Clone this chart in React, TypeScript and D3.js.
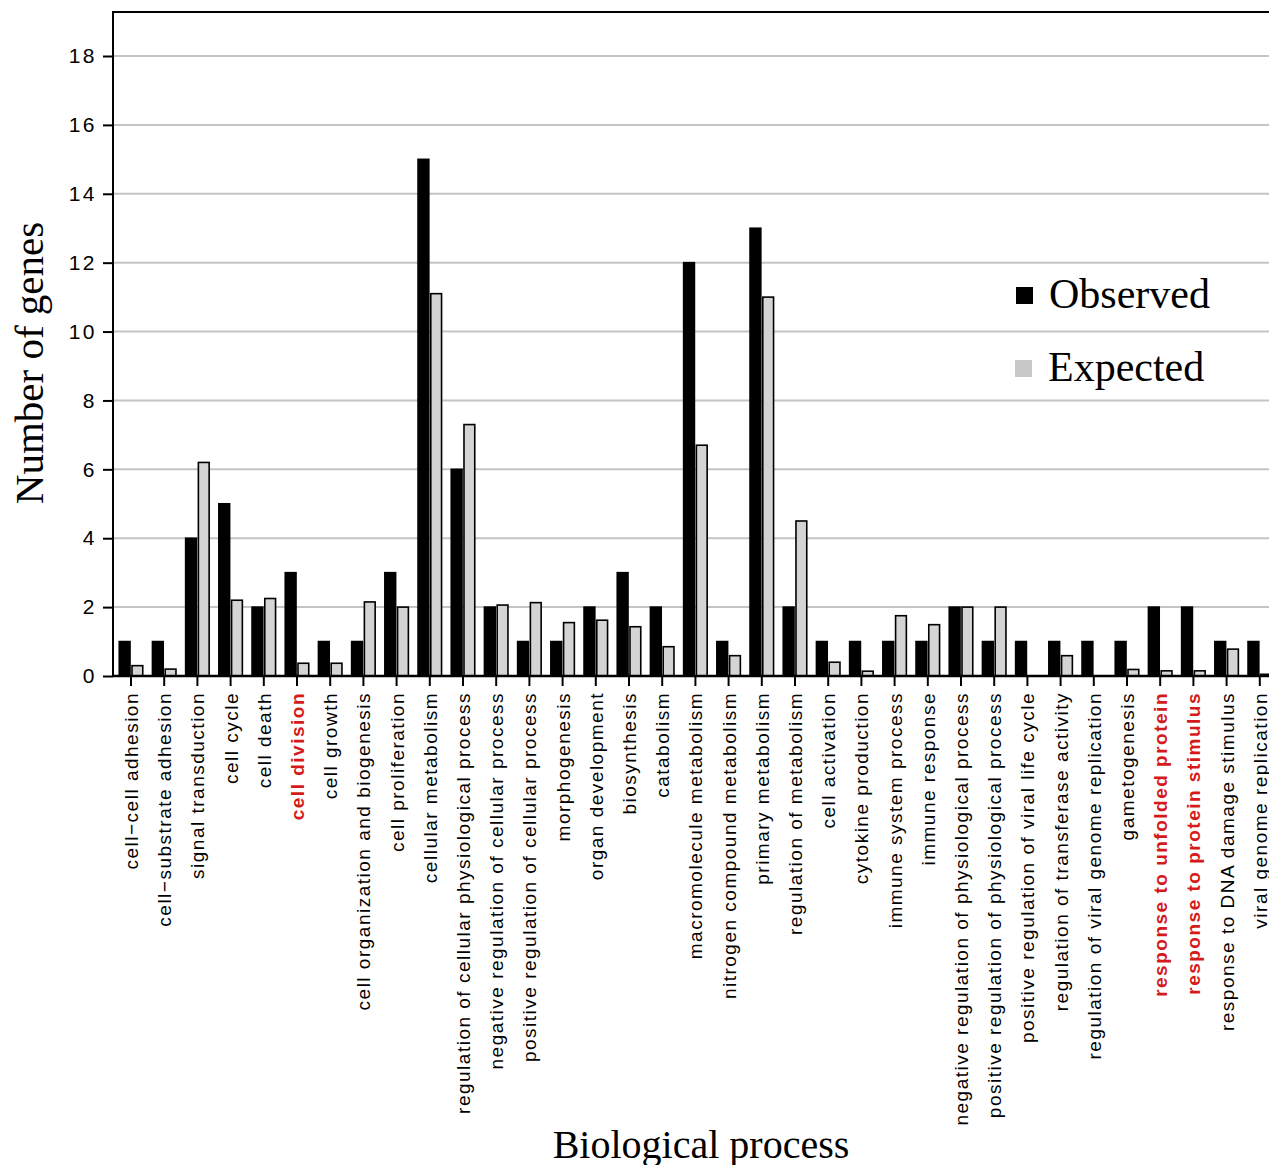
import React, { useEffect, useRef } from 'react';
import * as d3 from 'd3';

const categories = [
  'cell\u2212cell adhesion', 'cell\u2212substrate adhesion', 'signal transduction', 'cell cycle', 'cell death',
  'cell division', 'cell growth', 'cell organization and biogenesis', 'cell proliferation', 'cellular metabolism',
  'regulation of cellular physiological process', 'negative regulation of cellular process',
  'positive regulation of cellular process', 'morphogenesis', 'organ development', 'biosynthesis', 'catabolism',
  'macromolecule metabolism', 'nitrogen compound metabolism', 'primary metabolism', 'regulation of metabolism',
  'cell activation', 'cytokine production', 'immune system process', 'immune response',
  'negative regulation of physiological process', 'positive regulation of physiological process',
  'positive regulation of viral life cycle', 'regulation of transferase activity',
  'regulation of viral genome replication', 'gametogenesis', 'response to unfolded protein',
  'response to protein stimulus', 'response to DNA damage stimulus', 'viral genome replication'
];
const observed = [1, 1, 4, 5, 2, 3, 1, 1, 3, 15, 6, 2, 1, 1, 2, 3, 2, 12, 1, 13, 2, 1, 1, 1, 1, 2, 1, 1, 1, 1, 1, 2, 2, 1, 1];
const expected = [0.3, 0.2, 6.2, 2.2, 2.25, 0.37, 0.37, 2.15, 2.0, 11.1, 7.3, 2.06, 2.13, 1.55, 1.62, 1.43, 0.85, 6.7, 0.59, 11.0, 4.5, 0.4, 0.14, 1.75, 1.49, 2.0, 2.0, 0, 0.59, 0, 0.19, 0.15, 0.15, 0.78, 0.05];
const highlighted = ['cell division', 'response to unfolded protein', 'response to protein stimulus'];
const series = ['Observed', 'Expected'];
const yTicks = [0, 2, 4, 6, 8, 10, 12, 14, 16, 18];

const W = 1269;
const H = 1165;

export default function App() {
  const ref = useRef<SVGSVGElement>(null);

  useEffect(() => {
    const svg = d3.select(ref.current);
    svg.selectAll('*').remove();

    const left = 113;
    const bottom = 676;
    const y = d3.scaleLinear().domain([0, 18]).range([bottom, 56]);
    const top = y(19.28);
    const x = d3.scaleBand().domain(categories).range([114.4, 114.4 + 35 * 33.2]).padding(0);
    const x1 = d3.scaleBand().domain(series).range([0, x.bandwidth()]).paddingInner(0.154).paddingOuter(0.38);
    const color: Record<string, string> = { Observed: '#000', Expected: '#d4d4d4' };

    // grid
    svg.append('g').selectAll('line')
      .data(yTicks.filter(t => t > 0))
      .enter().append('line')
      .attr('x1', left).attr('x2', W)
      .attr('y1', d => y(d)).attr('y2', d => y(d))
      .attr('stroke', '#c4c4c4').attr('stroke-width', 2);

    // bars
    const rows = categories.map((c, i) => ({ c, vals: [observed[i], expected[i]] }));
    const grp = svg.append('g').selectAll('g')
      .data(rows)
      .enter().append('g')
      .attr('transform', d => 'translate(' + x(d.c) + ',0)');
    grp.selectAll('rect')
      .data(d => d.vals.map((v, j) => ({ s: series[j], v })).filter(e => e.v > 0))
      .enter().append('rect')
      .attr('x', d => x1(d.s) as number)
      .attr('width', x1.bandwidth())
      .attr('y', d => y(d.v))
      .attr('height', d => bottom - y(d.v))
      .attr('fill', d => color[d.s])
      .attr('stroke', '#000')
      .attr('stroke-width', 1.6);

    // frame
    svg.append('path')
      .attr('d', 'M' + left + ',' + bottom + 'V' + top + 'H' + (W + 5))
      .attr('fill', 'none').attr('stroke', '#000').attr('stroke-width', 2);
    svg.append('line')
      .attr('x1', left).attr('x2', W).attr('y1', bottom).attr('y2', bottom)
      .attr('stroke', '#000').attr('stroke-width', 2.5);

    // y axis
    const yAxis = d3.axisLeft(y).tickValues(yTicks).tickSize(10).tickPadding(6).tickFormat(d3.format('d'));
    const ya = svg.append('g').attr('transform', 'translate(' + left + ',0)').call(yAxis);
    ya.select('.domain').remove();
    ya.selectAll('.tick line').attr('stroke', '#000').attr('stroke-width', 2);
    ya.selectAll('.tick text')
      .attr('font-family', 'Liberation Sans, Arial, sans-serif')
      .attr('font-size', 21).attr('letter-spacing', 2.5).attr('fill', '#000');

    // x axis
    const xAxis = d3.axisBottom(x).tickSize(10).tickPadding(6);
    const xa = svg.append('g').attr('transform', 'translate(0,' + bottom + ')').call(xAxis);
    xa.select('.domain').remove();
    xa.selectAll('.tick line').attr('stroke', '#000').attr('stroke-width', 2);
    xa.selectAll('.tick text')
      .attr('font-family', 'Liberation Sans, Arial, sans-serif')
      .attr('font-size', 19)
      .attr('letter-spacing', 1.5)
      .attr('text-anchor', 'end')
      .attr('dy', null)
      .attr('y', 0)
      .attr('transform', 'translate(7,16) rotate(-90)')
      .attr('fill', (d: any) => highlighted.includes(d) ? '#d41a1a' : '#000')
      .attr('font-weight', (d: any) => highlighted.includes(d) ? 'bold' : 'normal');

    // titles
    svg.append('text')
      .attr('transform', 'translate(43,363) rotate(-90)')
      .attr('text-anchor', 'middle')
      .attr('font-family', 'Liberation Serif, Times New Roman, serif')
      .attr('font-size', 41)
      .text('Number of genes');
    svg.append('text')
      .attr('x', 701).attr('y', 1158)
      .attr('text-anchor', 'middle')
      .attr('font-family', 'Liberation Serif, Times New Roman, serif')
      .attr('font-size', 40)
      .text('Biological process');

    // legend
    const leg = svg.append('g').selectAll('g')
      .data(series)
      .enter().append('g')
      .attr('transform', (d, i) => 'translate(' + (1016 - i) + ',' + (287 + i * 73) + ')');
    leg.append('rect')
      .attr('width', 17).attr('height', 17)
      .attr('fill', d => d === 'Observed' ? '#000' : '#c8c8c8');
    leg.append('text')
      .attr('x', 33).attr('y', 21)
      .attr('font-family', 'Liberation Serif, Times New Roman, serif')
      .attr('font-size', 42)
      .text(d => d);
  }, []);

  return (
    <svg ref={ref} width={W} height={H} style={{ position: 'absolute', left: 0, top: 0, background: '#fff' }} />
  );
}
